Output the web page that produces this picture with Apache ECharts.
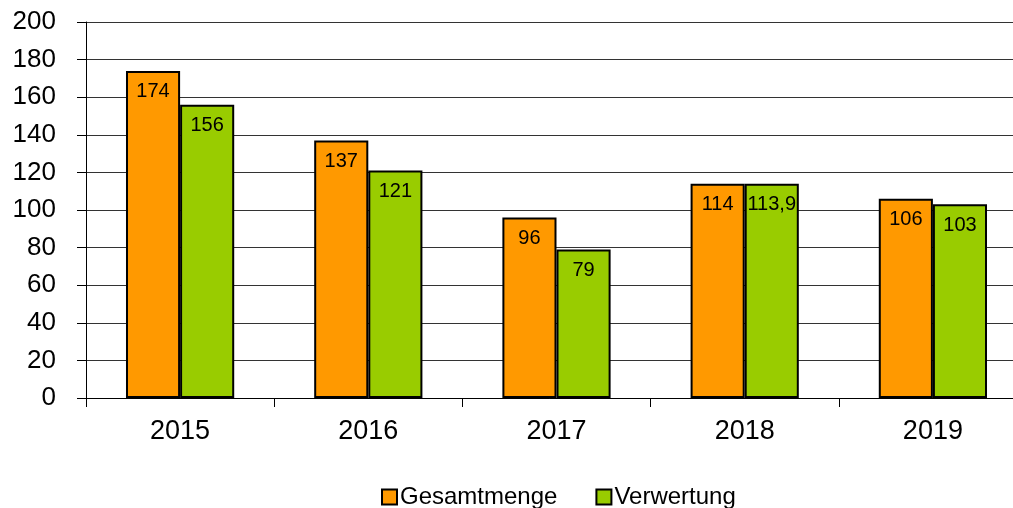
<!DOCTYPE html>
<html>
<head>
<meta charset="utf-8">
<script src="https://cdn.jsdelivr.net/npm/echarts@6/dist/echarts.min.js"></script>
<style>
  html, body { margin: 0; padding: 0; background: #fff; }
  #chart { width: 1013px; height: 508px; }
</style>
</head>
<body>
<div id="chart"></div>
<script>
// Jahre und Werte
var years = ['2015', '2016', '2017', '2018', '2019']
var gesamtmenge = [174, 137, 96, 114, 106]
var verwertung = [156, 121, 79, 113.9, 103]
var yTicks = [0, 20, 40, 60, 80, 100, 120, 140, 160, 180, 200]

var myChart = echarts.init(document.getElementById('chart'))

// Dezimalkomma wie im Original
var fmt = function (p) {
  return String(p.value).replace('.', ',')
}

var option = {
  animation: false,
  textStyle: { fontFamily: 'Liberation Sans, Arial, sans-serif' },
  grid: { left: 86, top: 22, right: -14, bottom: 110, outerBoundsMode: 'none', containLabel: false },
  legend: {
    top: 480,
    left: 376,
    itemWidth: 15,
    itemHeight: 15,
    itemGap: 38,
    textStyle: { fontSize: 24, color: '#000', padding: [0, 0, 0, -2] },
    data: [
      { name: 'Gesamtmenge', icon: 'rect' },
      { name: 'Verwertung', icon: 'rect' }
    ]
  },
  xAxis: {
    type: 'category',
    data: years,
    axisLine: { lineStyle: { color: '#000', width: 1 } },
    axisTick: { show: true, length: 9, lineStyle: { color: '#000' } },
    axisLabel: { fontSize: 27, color: '#000', margin: 20 }
  },
  yAxis: {
    type: 'value',
    min: yTicks[0],
    max: yTicks[yTicks.length - 1],
    interval: 20,
    axisLine: { show: true, lineStyle: { color: '#000', width: 1 } },
    axisTick: { show: true, length: 9, lineStyle: { color: '#000' } },
    axisLabel: { fontSize: 26, color: '#000', margin: 30 },
    splitLine: { lineStyle: { color: '#333', width: 1 } }
  },
  series: [
    {
      name: 'Gesamtmenge',
      type: 'bar',
      data: gesamtmenge,
      barGap: '0%',
      barCategoryGap: '42.5%',
      itemStyle: { color: '#FF9900', borderColor: '#000', borderWidth: 2 },
      label: { show: true, position: 'insideTop', distance: 11, fontSize: 20, color: '#000', formatter: fmt }
    },
    {
      name: 'Verwertung',
      type: 'bar',
      data: verwertung,
      itemStyle: { color: '#99CC00', borderColor: '#000', borderWidth: 2 },
      label: { show: true, position: 'insideTop', distance: 11, fontSize: 20, color: '#000', formatter: fmt }
    }
  ]
}

myChart.setOption(option)
</script>
</body>
</html>
